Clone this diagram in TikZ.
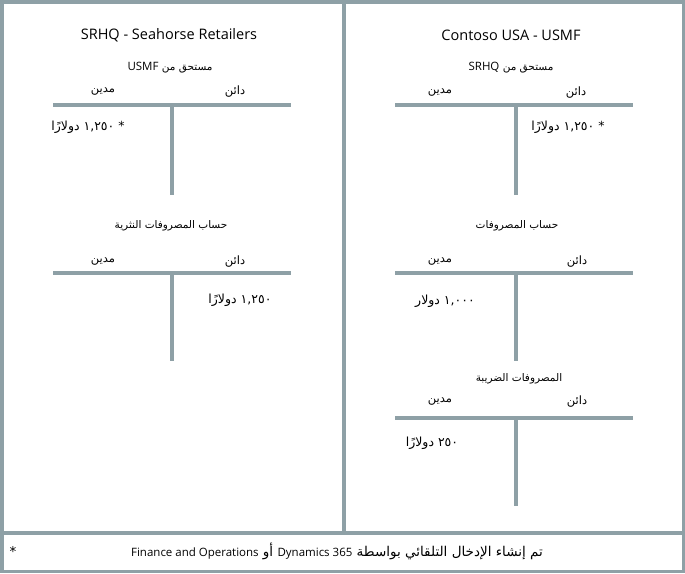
\documentclass[tikz,border=0pt]{standalone}
\usepackage{fontspec}
\setmainfont{Open Sans}
\newfontfamily\arabicfont[Script=Arabic]{DejaVu Sans}
\TeXXeTstate=1
\usepackage{xcolor}
\usetikzlibrary{positioning}
\definecolor{tgray}{RGB}{142,160,166}
\newcommand{\lat}[1]{{\rmfamily\fontsize{11.5}{13}\selectfont #1}}

\begin{document}
\begin{tikzpicture}[x=1pt, y=-1pt,
  frame/.style={draw=tgray, line width=3.5pt},
  tbar/.style={draw=tgray, line width=4pt},
  title/.style={font=\fontsize{14.5}{17}\selectfont, inner sep=0pt},
  acct/.style={font=\fontsize{10.5}{13}\selectfont\arabicfont, inner sep=0pt},
  side/.style={font=\fontsize{11.5}{13}\selectfont\arabicfont, inner sep=0pt},
  amount/.style={font=\fontsize{12.5}{14}\selectfont\arabicfont, inner sep=0pt},
  note/.style={font=\fontsize{13.5}{15}\selectfont\arabicfont, inner sep=0pt}]
  \useasboundingbox (0,0) rectangle (685,573);
  % frame
  \draw[frame] (1.75,1.75) rectangle (683.25,571.25);
  \draw[frame] (344,0) -- (344,533);
  \draw[frame] (0,533) -- (685,533);

  % SRHQ side
  \node[title] (S) at (169,35) {SRHQ - Seahorse Retailers};
  \node[acct] (SA1) at (170,68) {\beginR مستحق من \beginL\lat{USMF}\endL\endR};
  \node[side] (SD1) at (103,92) {\beginR مدين\endR};
  \node[side] (SC1) at (235,92) {\beginR دائن\endR};
  \draw[tbar] (53,105) -- (291,105);
  \draw[tbar] (171.5,105) -- (171.5,195);
  \node[amount] (SE1) at (88,127) {\beginR * \beginL ١,٢٥٠\endL\ دولارًا\endR};

  \node[acct] (SA2) at (171,226) {\beginR حساب المصروفات النثرية\endR};
  \node[side] (SD2) at (103,262) {\beginR مدين\endR};
  \node[side] (SC2) at (235,262) {\beginR دائن\endR};
  \draw[tbar] (53,273) -- (291,273);
  \draw[tbar] (171.5,273) -- (171.5,361);
  \node[amount] (SE2) at (240,300) {\beginR\beginL ١,٢٥٠\endL\ دولارًا\endR};

  % USMF side
  \node[title] (U) at (511,35) {Contoso USA - USMF};
  \node[acct] (UA1) at (511,68) {\beginR مستحق من \beginL\lat{SRHQ}\endL\endR};
  \node[side] (UD1) at (440,93) {\beginR مدين\endR};
  \node[side] (UC1) at (576,93) {\beginR دائن\endR};
  \draw[tbar] (395,105) -- (633,105);
  \draw[tbar] (515.5,105) -- (515.5,195);
  \node[amount] (UE1) at (568,127) {\beginR * \beginL ١,٢٥٠\endL\ دولارًا\endR};

  \node[acct] (UA2) at (517,226) {\beginR حساب المصروفات\endR};
  \node[side] (UD2) at (440,262) {\beginR مدين\endR};
  \node[side] (UC2) at (577,262) {\beginR دائن\endR};
  \draw[tbar] (395,273) -- (633,273);
  \draw[tbar] (515.5,273) -- (515.5,361);
  \node[amount] (UE2) at (445,301) {\beginR\beginL ١,٠٠٠\endL\ دولار\endR};

  \node[acct] (UA3) at (519,379) {\beginR المصروفات الضريبة\endR};
  \node[side] (UD3) at (440,402) {\beginR مدين\endR};
  \node[side] (UC3) at (577,402) {\beginR دائن\endR};
  \draw[tbar] (395,418) -- (633,418);
  \draw[tbar] (515.5,418) -- (515.5,506);
  \node[amount] (UE3) at (432,443) {\beginR\beginL ٢٥٠\endL\ دولارًا\endR};

  % footnote
  \node[note] (N0) at (13,551) {*};
  \node[note] (N) at (337,551) {\beginR تم إنشاء الإدخال التلقائي بواسطة \beginL\lat{Dynamics 365}\endL\ أو \beginL\lat{Finance and Operations}\endL\endR};
\end{tikzpicture}
\end{document}
